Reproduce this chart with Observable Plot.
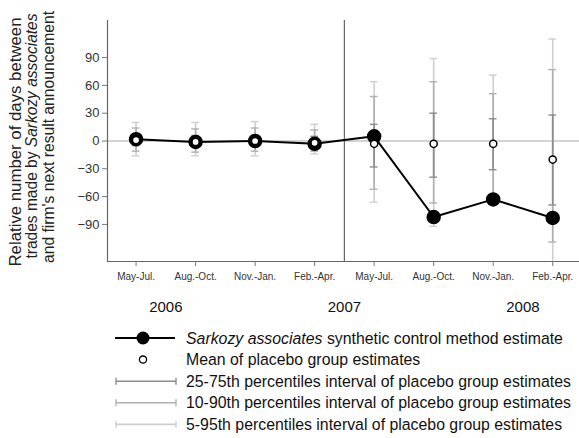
<!DOCTYPE html>
<html>
<head>
<meta charset="utf-8">
<script src="https://cdn.jsdelivr.net/npm/d3@7"></script>
<script src="https://cdn.jsdelivr.net/npm/@observablehq/plot@0.6"></script>
<style>
  body { margin: 0; background: white; }
  #chart { width: 579px; }
</style>
</head>
<body>
<div id="chart"></div>
<script>
// ---- data ----
const periods = ["May-Jul.", "Aug.-Oct.", "Nov.-Jan.", "Feb.-Apr.", "May-Jul.", "Aug.-Oct.", "Nov.-Jan.", "Feb.-Apr."];
const years = ["2006", "2007", "2008"];
const yearPos = [0.5, 3.5, 6.5];
const treatmentStart = 3.5;
const synthetic = [2, -1, 0, -3, 5, -82, -63, -83];
const placeboMean = [1, -1, 0, -2, -3, -3, -3, -20];
const p25 = [-5, -6, -5, -6, -28, -39, -31, -69];
const p75 = [7, 6, 6, 5, 18, 30, 24, 28];
const p10 = [-11, -12, -11, -11, -52, -67, -60, -109];
const p90 = [14, 13, 14, 12, 48, 64, 51, 77];
const p5 = [-16, -16, -16, -14, -66, -92, -68, -140];
const p95 = [20, 20, 21, 18, 64, 89, 71, 110];
const yTicks = [-90, -60, -30, 0, 30, 60, 90];
const yDomain = [-130, 130];
const xDomain = [-0.48, 7.45];

const rows = periods.map((p, i) => ({
  i, period: p, syn: synthetic[i], mean: placeboMean[i],
  p5: p5[i], p95: p95[i], p10: p10[i], p90: p90[i], p25: p25[i], p75: p75[i]
}));

const bands = [
  {lo: "p5", hi: "p95", color: "#cfcfcf"},
  {lo: "p10", hi: "p90", color: "#b0b0b0"},
  {lo: "p25", hi: "p75", color: "#8c8c8c"}
];
const capHalf = 0.065;

const intervalMarks = bands.flatMap(b => [
  Plot.ruleX(rows, {x: "i", y1: b.lo, y2: b.hi, stroke: b.color, strokeWidth: 1.6, clip: true}),
  Plot.ruleY(rows, {y: b.lo, x1: d => d.i - capHalf, x2: d => d.i + capHalf, stroke: b.color, strokeWidth: 1.4, clip: true}),
  Plot.ruleY(rows, {y: b.hi, x1: d => d.i - capHalf, x2: d => d.i + capHalf, stroke: b.color, strokeWidth: 1.4, clip: true})
]);

const plot = Plot.plot({
  width: 579,
  height: 318,
  marginLeft: 107,
  marginRight: 0,
  marginTop: 20,
  marginBottom: 57,
  style: {fontFamily: "'Liberation Sans', Arial, sans-serif", background: "white", overflow: "visible"},
  x: {domain: xDomain, axis: null},
  y: {domain: yDomain, axis: null},
  marks: [
    Plot.ruleY([0], {stroke: "#a8a8a8", strokeWidth: 1.2}),
    ...intervalMarks,
    Plot.ruleX([treatmentStart], {stroke: "#666", strokeWidth: 1.2}),
    Plot.ruleX([xDomain[0]], {stroke: "#666", strokeWidth: 1.2}),
    Plot.ruleY([yDomain[0]], {stroke: "#666", strokeWidth: 1.2}),
    Plot.axisY({ticks: yTicks, tickSize: 5, tickPadding: 3, fontSize: 13, color: "#333", stroke: "#777", label: null}),
    Plot.axisX({ticks: d3.range(periods.length), tickFormat: i => periods[i], tickSize: 5, tickPadding: 6, fontSize: 10, color: "#333", stroke: "#777", label: null}),
    Plot.line(rows, {x: "i", y: "syn", stroke: "black", strokeWidth: 2}),
    Plot.dot(rows, {x: "i", y: "syn", r: 6.5, fill: "black", stroke: "black"}),
    Plot.dot(rows, {x: "i", y: "mean", r: 3.6, fill: "white", stroke: "black", strokeWidth: 1.5}),
    Plot.text(years, {x: (d, k) => yearPos[k], y: () => yDomain[0], dy: 46, fontSize: 15, fill: "#111", clip: false})
  ]
});

// Y-axis title (three lines, rotated)
const svg = d3.select(plot);
const titleLines = [
  {parts: [{t: "Relative number of days between"}], x: 20.5, cy: 142, len: 249},
  {parts: [{t: "trades made by "}, {t: "Sarkozy associates", i: true}], x: 37, cy: 136, len: 245},
  {parts: [{t: "and firm's next result announcement"}], x: 53.5, cy: 137, len: 252}
];
titleLines.forEach(line => {
  const txt = svg.append("text")
    .attr("transform", `translate(${line.x},${line.cy}) rotate(-90)`)
    .attr("text-anchor", "middle")
    .attr("font-size", 16)
    .attr("textLength", line.len)
    .attr("lengthAdjust", "spacingAndGlyphs")
    .attr("fill", "#222")
    .attr("font-family", "'Liberation Sans', Arial, sans-serif");
  line.parts.forEach(p => txt.append("tspan").text(p.t).attr("font-style", p.i ? "italic" : null));
});

document.getElementById("chart").appendChild(plot);

// Legend below the chart
const legendItems = [
  {kind: "syn", parts: [{t: "Sarkozy associates", i: true}, {t: " synthetic control method estimate"}]},
  {kind: "mean", parts: [{t: "Mean of placebo group estimates"}]},
  {kind: "bar", color: bands[2].color, parts: [{t: "25-75th percentiles interval of placebo group estimates"}]},
  {kind: "bar", color: bands[1].color, parts: [{t: "10-90th percentiles interval of placebo group estimates"}]},
  {kind: "bar", color: bands[0].color, parts: [{t: "5-95th percentiles interval of placebo group estimates"}]}
];
const lg = d3.select("#chart").append("svg")
  .attr("width", 579).attr("height", 120)
  .style("display", "block")
  .attr("font-family", "'Liberation Sans', Arial, sans-serif");
legendItems.forEach((it, k) => {
  const cy = 20 + k * 21.6;
  const g = lg.append("g");
  if (it.kind === "syn") {
    g.append("line").attr("x1", 115).attr("x2", 175).attr("y1", cy).attr("y2", cy).attr("stroke", "black").attr("stroke-width", 2);
    g.append("circle").attr("cx", 143).attr("cy", cy).attr("r", 6.5).attr("fill", "black");
  } else if (it.kind === "mean") {
    g.append("circle").attr("cx", 143).attr("cy", cy).attr("r", 3.6).attr("fill", "white").attr("stroke", "black").attr("stroke-width", 1.3);
  } else {
    g.append("line").attr("x1", 116).attr("x2", 176).attr("y1", cy).attr("y2", cy).attr("stroke", it.color).attr("stroke-width", 1.6);
    g.append("line").attr("x1", 116).attr("x2", 116).attr("y1", cy - 3.5).attr("y2", cy + 3.5).attr("stroke", it.color).attr("stroke-width", 1.4);
    g.append("line").attr("x1", 176).attr("x2", 176).attr("y1", cy - 3.5).attr("y2", cy + 3.5).attr("stroke", it.color).attr("stroke-width", 1.4);
  }
  const txt = g.append("text").attr("x", 186).attr("y", cy).attr("dy", "0.35em").attr("font-size", 15.85).attr("fill", "#111");
  it.parts.forEach(p => txt.append("tspan").text(p.t).attr("font-style", p.i ? "italic" : null));
});
</script>
</body>
</html>
